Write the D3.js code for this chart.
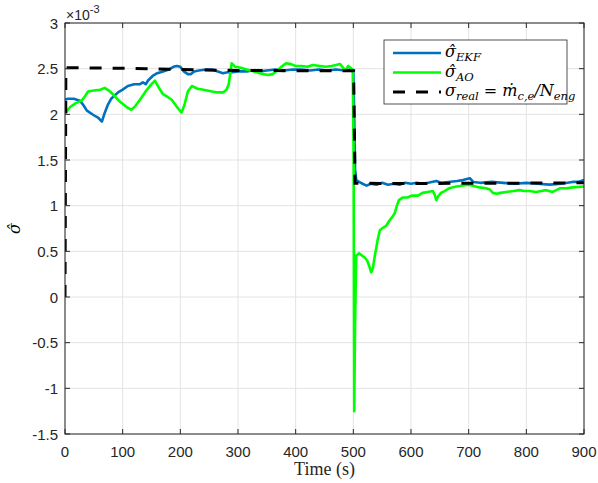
<!DOCTYPE html>
<html lang="en">

<head>
    <meta charset="UTF-8">
    <title>Sigma estimation</title>
    <script src="https://d3js.org/d3.v7.min.js"></script>
    <style>
        body {
            margin: 0;
            background: white;
        }

        .tick-label {
            font-family: "Liberation Sans", Arial, sans-serif;
            font-size: 15px;
            fill: #262626;
        }

        .math {
            font-family: "DejaVu Serif", "Liberation Serif", serif;
            font-style: italic;
            fill: #000;
        }
    </style>
</head>

<body>
    <div id="chart"></div>

    <script>
        /*-------------------------------------------------------*/
        /*------------------------ data -------------------------*/
        /*-------------------------------------------------------*/
        // all sigma values are in units of 1e-3

        // EKF estimate
        const timeEKF = [0, 5, 15, 26, 32, 38, 50, 58, 64, 68, 74, 80, 92, 100, 109, 120, 130, 135, 140, 144, 152, 160, 170, 180, 188, 194, 200, 206, 213, 218, 224, 232, 245, 255, 265, 274, 282, 291, 300, 315, 325, 338, 350, 365, 380, 395, 410, 425, 440, 455, 470, 485, 495, 500, 501.5, 503, 505, 510, 516, 523, 530, 540, 550, 560, 570, 580, 590, 600, 610, 620, 630, 644, 652, 665, 680, 690, 702, 708, 720, 740, 760, 780, 800, 820, 840, 860, 880, 890, 900];
        const sigmaEKF = [2.16, 2.17, 2.17, 2.15, 2.10, 2.04, 1.99, 1.96, 1.92, 2.00, 2.10, 2.17, 2.24, 2.27, 2.31, 2.33, 2.33, 2.35, 2.33, 2.37, 2.42, 2.45, 2.47, 2.49, 2.52, 2.53, 2.52, 2.47, 2.44, 2.44, 2.47, 2.48, 2.49, 2.49, 2.47, 2.45, 2.46, 2.46, 2.47, 2.47, 2.48, 2.47, 2.48, 2.49, 2.48, 2.49, 2.49, 2.48, 2.49, 2.48, 2.49, 2.48, 2.49, 2.48, 2.00, 1.40, 1.28, 1.26, 1.24, 1.22, 1.24, 1.23, 1.25, 1.23, 1.24, 1.23, 1.25, 1.24, 1.25, 1.24, 1.25, 1.27, 1.25, 1.26, 1.27, 1.28, 1.30, 1.26, 1.25, 1.26, 1.25, 1.24, 1.25, 1.24, 1.23, 1.24, 1.26, 1.26, 1.28];

        // AO estimate
        const timeAO = [0, 5, 9, 18, 29, 35, 40, 50, 61, 69, 76, 83, 95, 109, 115, 122, 130, 141, 150, 156, 162, 170, 178, 185, 193, 202, 207, 213, 220, 230, 240, 255, 265, 274, 280, 284, 289, 295, 305, 315, 328, 338, 345, 352, 360, 368, 375, 384, 392, 400, 410, 420, 430, 442, 452, 462, 470, 477, 481, 485, 488, 491, 495, 499, 500.5, 501.5, 503, 505, 510, 516, 520, 524, 528, 531, 534, 537, 542, 546, 552, 557, 563, 568, 572, 575, 579, 586, 594, 601, 612, 620, 629, 638, 641, 644, 647, 652, 658, 666, 679, 690, 700, 719, 730, 736, 742, 748, 755, 765, 778, 788, 797, 805, 817, 826, 834, 840, 845, 852, 858, 870, 880, 900];
        const sigmaAO = [2.00, 2.05, 2.08, 2.12, 2.15, 2.20, 2.25, 2.26, 2.27, 2.29, 2.26, 2.22, 2.14, 2.07, 2.05, 2.09, 2.16, 2.26, 2.33, 2.37, 2.30, 2.22, 2.19, 2.16, 2.09, 2.02, 2.10, 2.25, 2.31, 2.28, 2.27, 2.25, 2.24, 2.24, 2.27, 2.33, 2.56, 2.52, 2.51, 2.49, 2.47, 2.45, 2.44, 2.43, 2.44, 2.48, 2.52, 2.56, 2.55, 2.53, 2.53, 2.52, 2.54, 2.53, 2.52, 2.53, 2.54, 2.55, 2.52, 2.49, 2.50, 2.53, 2.51, 2.49, 1.50, -1.25, -0.30, 0.45, 0.48, 0.45, 0.43, 0.40, 0.33, 0.27, 0.32, 0.44, 0.62, 0.73, 0.76, 0.78, 0.84, 0.88, 0.92, 0.99, 1.06, 1.09, 1.09, 1.11, 1.11, 1.14, 1.15, 1.16, 1.12, 1.06, 1.10, 1.14, 1.16, 1.19, 1.21, 1.22, 1.23, 1.20, 1.19, 1.18, 1.14, 1.13, 1.14, 1.15, 1.16, 1.17, 1.16, 1.16, 1.15, 1.16, 1.17, 1.16, 1.15, 1.17, 1.19, 1.19, 1.20, 1.21];

        // real value (dashed)
        const timeReal = [0, 1.5, 100, 200, 300, 400, 500.5, 503, 600, 700, 800, 900];
        const sigmaReal = [0, 2.51, 2.505, 2.49, 2.48, 2.478, 2.478, 1.245, 1.243, 1.245, 1.247, 1.25];

        // axes ticks
        const xTicks = [0, 100, 200, 300, 400, 500, 600, 700, 800, 900];
        const yTicks = [-1.5, -1, -0.5, 0, 0.5, 1, 1.5, 2, 2.5, 3];

        /*-------------------------------------------------------*/
        /*------------------- Window setting --------------------*/
        /*-------------------------------------------------------*/
        const width = 598;
        const height = 483;
        const margin = { top: 23, right: 14, bottom: 49, left: 65 };
        const innerW = width - margin.left - margin.right;
        const innerH = height - margin.top - margin.bottom;

        const axisColor = "#262626";

        const svg = d3.select("#chart").append("svg")
            .attr("width", width)
            .attr("height", height);

        const g = svg.append("g")
            .attr("transform", `translate(${margin.left},${margin.top})`);

        /*-------------------------------------------------------*/
        /*------------------------ scales -----------------------*/
        /*-------------------------------------------------------*/
        const x = d3.scaleLinear().domain([0, 900]).range([0, innerW]);
        const y = d3.scaleLinear().domain([-1.5, 3]).range([innerH, 0]);

        /*-------------------------------------------------------*/
        /*------------------------- grid ------------------------*/
        /*-------------------------------------------------------*/
        g.append("g")
            .selectAll("line")
            .data(xTicks)
            .enter()
            .append("line")
            .attr("x1", d => x(d)).attr("x2", d => x(d))
            .attr("y1", 0).attr("y2", innerH)
            .attr("stroke", "#e3e3e3")
            .attr("stroke-width", 1);

        g.append("g")
            .selectAll("line")
            .data(yTicks)
            .enter()
            .append("line")
            .attr("x1", 0).attr("x2", innerW)
            .attr("y1", d => y(d)).attr("y2", d => y(d))
            .attr("stroke", "#e3e3e3")
            .attr("stroke-width", 1);

        /*-------------------------------------------------------*/
        /*------------------------ lines ------------------------*/
        /*-------------------------------------------------------*/
        svg.append("clipPath").attr("id", "clip")
            .append("rect")
            .attr("x", 0).attr("y", 0)
            .attr("width", innerW).attr("height", innerH);

        const plot = g.append("g").attr("clip-path", "url(#clip)");

        const line = d3.line()
            .x(d => x(d[0]))
            .y(d => y(d[1]));

        const zip = (a, b) => a.map((t, i) => [t, b[i]]);

        plot.append("path")
            .attr("d", line(zip(timeEKF, sigmaEKF)))
            .attr("fill", "none")
            .attr("stroke", "#0072BD")
            .attr("stroke-width", 2.6)
            .attr("stroke-linejoin", "round");

        plot.append("path")
            .attr("d", line(zip(timeAO, sigmaAO)))
            .attr("fill", "none")
            .attr("stroke", "#00FF00")
            .attr("stroke-width", 2.6)
            .attr("stroke-linejoin", "round");

        plot.append("path")
            .attr("d", line(zip(timeReal, sigmaReal)))
            .attr("fill", "none")
            .attr("stroke", "#000")
            .attr("stroke-width", 3)
            .attr("stroke-dasharray", "12,11");

        /*-------------------------------------------------------*/
        /*------------------------- axes ------------------------*/
        /*-------------------------------------------------------*/
        const tickLen = 5;

        // box
        g.append("rect")
            .attr("x", 0).attr("y", 0)
            .attr("width", innerW).attr("height", innerH)
            .attr("fill", "none")
            .attr("stroke", axisColor)
            .attr("stroke-width", 1);

        // inward ticks on all four sides
        const ticks = g.append("g").attr("stroke", axisColor).attr("stroke-width", 1);
        xTicks.forEach(t => {
            ticks.append("line").attr("x1", x(t)).attr("x2", x(t)).attr("y1", innerH).attr("y2", innerH - tickLen);
            ticks.append("line").attr("x1", x(t)).attr("x2", x(t)).attr("y1", 0).attr("y2", tickLen);
        });
        yTicks.forEach(t => {
            ticks.append("line").attr("x1", 0).attr("x2", tickLen).attr("y1", y(t)).attr("y2", y(t));
            ticks.append("line").attr("x1", innerW).attr("x2", innerW - tickLen).attr("y1", y(t)).attr("y2", y(t));
        });

        // tick labels
        g.append("g")
            .selectAll("text")
            .data(xTicks)
            .enter()
            .append("text")
            .attr("class", "tick-label")
            .attr("x", d => x(d))
            .attr("y", innerH + 23)
            .attr("text-anchor", "middle")
            .text(d => d);

        g.append("g")
            .selectAll("text")
            .data(yTicks)
            .enter()
            .append("text")
            .attr("class", "tick-label")
            .attr("x", -7)
            .attr("y", d => y(d) + 5.5)
            .attr("text-anchor", "end")
            .text(d => d);

        // exponent label
        const expo = g.append("text")
            .attr("class", "tick-label")
            .attr("x", 1)
            .attr("y", -3)
            .style("font-size", "14px");
        expo.append("tspan").text("\u00d710");
        expo.append("tspan")
            .attr("dy", -7)
            .style("font-size", "11px")
            .text("-3");

        // axis titles
        svg.append("text")
            .attr("x", margin.left + innerW / 2)
            .attr("y", height - 8)
            .attr("text-anchor", "middle")
            .attr("font-family", "'Liberation Serif', 'DejaVu Serif', serif")
            .attr("font-size", "18px")
            .attr("fill", "#262626")
            .text("Time (s)");

        svg.append("text")
            .attr("class", "math")
            .attr("transform", `translate(20,${margin.top + innerH / 2}) rotate(-90)`)
            .attr("text-anchor", "middle")
            .attr("font-size", "16px")
            .text("\u03c3\u0302");

        /*-------------------------------------------------------*/
        /*------------------------ legend -----------------------*/
        /*-------------------------------------------------------*/
        const legend = svg.append("g").attr("transform", "translate(384,40)");

        legend.append("rect")
            .attr("width", 183).attr("height", 64)
            .attr("fill", "white")
            .attr("stroke", axisColor)
            .attr("stroke-width", 0.8);

        const rows = [
            { color: "#0072BD", dash: null, width: 2.6, parts: [["\u03c3\u0302", false], ["EKF", true]] },
            { color: "#00FF00", dash: null, width: 2.6, parts: [["\u03c3\u0302", false], ["AO", true]] },
            { color: "#000", dash: "12,11", width: 3, parts: [["\u03c3", false], ["real", true], [" = \u1e41", false], ["c,e", true], ["/N", false], ["eng", true]] }
        ];

        rows.forEach((r, i) => {
            const ry = 13 + i * 19.5;
            legend.append("line")
                .attr("x1", 9).attr("x2", 57)
                .attr("y1", ry).attr("y2", ry)
                .attr("stroke", r.color)
                .attr("stroke-width", r.width)
                .attr("stroke-dasharray", r.dash);

            const txt = legend.append("text")
                .attr("class", "math")
                .attr("x", 61)
                .attr("y", ry + 4)
                .attr("font-size", "16px");

            let sub = false;
            r.parts.forEach(p => {
                const ts = txt.append("tspan").text(p[0]);
                if (p[1] && !sub) {
                    ts.attr("dy", 4).attr("font-size", "11.5px");
                    sub = true;
                } else if (p[1]) {
                    ts.attr("font-size", "11.5px");
                } else if (sub) {
                    ts.attr("dy", -4);
                    sub = false;
                }
            });
        });
    </script>
</body>

</html>
